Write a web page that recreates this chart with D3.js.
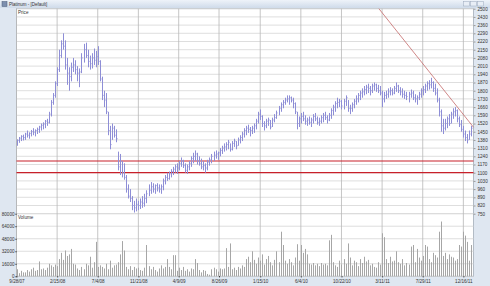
<!DOCTYPE html>
<html>
<head>
<meta charset="utf-8">
<script src="https://d3js.org/d3.v7.min.js"></script>
<style>
  body { margin: 0; background: #dfe7f1; }
  svg { display: block; font-family: "Liberation Sans", Arial, sans-serif; }
</style>
</head>
<body>
<div id="chart"></div>
<script>
// weekly bars, first bar on this date
const startDate = "2007-09-28";

const lows = [
  1330,1355,1370,1375,1380,1400,1390,1410,1420,1410,
  1430,1440,1460,1470,1480,1500,1520,1580,1680,1740,
  1840,1960,2080,2150,1980,1850,1800,1880,1960,1940,
  1880,1830,1950,2040,2080,2000,1980,1990,2020,2000,
  2020,1880,1720,1660,1600,1420,1300,1380,1400,1360,
  1120,1080,1060,1040,930,880,850,780,760,770,
  780,790,800,810,840,900,920,930,920,940,
  930,920,950,1000,1030,1040,1060,1080,1100,1090,
  1120,1150,1140,1100,1090,1120,1150,1180,1200,1170,
  1160,1130,1120,1100,1120,1160,1180,1200,1220,1210,
  1240,1260,1280,1290,1300,1280,1290,1320,1300,1330,
  1350,1370,1400,1420,1440,1410,1430,1440,1470,1520,
  1550,1490,1460,1480,1500,1470,1490,1530,1560,1590,
  1620,1650,1680,1700,1680,1700,1650,1600,1470,1490,
  1520,1540,1510,1500,1510,1490,1520,1540,1510,1500,
  1520,1530,1550,1520,1540,1560,1590,1620,1650,1660,
  1640,1640,1670,1620,1600,1620,1650,1680,1700,1720,
  1740,1760,1770,1780,1760,1780,1800,1790,1780,1760,
  1660,1700,1730,1740,1760,1760,1770,1790,1780,1760,
  1740,1730,1720,1700,1740,1720,1700,1680,1720,1740,
  1760,1780,1800,1810,1820,1790,1760,1700,1580,1450,
  1430,1460,1480,1500,1520,1560,1580,1530,1490,1450,
  1400,1370,1350,1380,1410
];

const highs = [
  1385,1405,1420,1425,1440,1460,1445,1465,1480,1470,
  1485,1500,1520,1530,1550,1560,1620,1720,1780,1880,
  2000,2150,2230,2290,2230,2080,2000,2040,2080,2060,
  2010,1990,2120,2200,2210,2150,2100,2120,2160,2140,
  2180,2060,1920,1800,1780,1620,1500,1520,1500,1470,
  1280,1260,1200,1180,1080,1000,960,900,860,880,
  860,880,900,920,950,1000,1020,1010,1000,1010,
  1000,1000,1050,1080,1100,1110,1130,1150,1170,1180,
  1200,1230,1210,1180,1170,1200,1240,1270,1290,1270,
  1240,1220,1200,1180,1210,1230,1260,1280,1290,1280,
  1310,1330,1350,1360,1380,1350,1370,1390,1370,1400,
  1420,1450,1480,1500,1510,1490,1500,1520,1560,1620,
  1640,1590,1540,1560,1570,1550,1570,1600,1630,1670,
  1700,1720,1740,1760,1760,1750,1740,1700,1620,1580,
  1610,1620,1590,1570,1580,1570,1600,1610,1580,1570,
  1590,1610,1620,1590,1610,1650,1680,1710,1740,1730,
  1720,1730,1760,1720,1680,1700,1730,1760,1780,1800,
  1820,1840,1850,1860,1840,1860,1870,1860,1850,1840,
  1800,1790,1800,1820,1830,1820,1840,1870,1850,1830,
  1820,1800,1790,1790,1810,1800,1770,1760,1790,1820,
  1840,1860,1880,1890,1910,1880,1860,1820,1740,1640,
  1560,1560,1580,1600,1620,1650,1660,1640,1580,1550,
  1500,1460,1430,1460,1500
];

const closes = [
  1375,1395,1410,1400,1430,1420,1435,1450,1445,1460,
  1470,1490,1505,1515,1540,1530,1600,1700,1760,1860,
  1980,2100,2200,2180,2020,1950,1920,2000,2020,1980,
  1950,1960,2080,2150,2100,2050,2030,2080,2060,2090,
  2050,1900,1760,1720,1620,1460,1340,1480,1420,1390,
  1150,1200,1100,1060,960,900,880,820,800,830,
  820,850,840,880,920,950,980,960,990,970,
  960,980,1030,1060,1050,1090,1110,1130,1150,1140,
  1180,1200,1160,1120,1150,1180,1220,1240,1260,1200,
  1180,1150,1160,1140,1190,1210,1240,1250,1260,1270,
  1290,1310,1320,1340,1360,1300,1350,1370,1330,1380,
  1400,1430,1460,1480,1470,1460,1480,1500,1540,1600,
  1580,1520,1500,1540,1550,1490,1550,1570,1610,1650,
  1680,1700,1720,1730,1740,1720,1690,1620,1520,1560,
  1580,1560,1540,1550,1530,1550,1580,1560,1530,1540,
  1570,1590,1570,1550,1590,1630,1660,1690,1700,1710,
  1670,1710,1740,1650,1650,1680,1710,1730,1760,1780,
  1790,1810,1830,1820,1800,1840,1850,1820,1800,1780,
  1730,1760,1770,1790,1800,1780,1820,1840,1800,1790,
  1770,1760,1750,1770,1780,1740,1730,1740,1770,1800,
  1810,1840,1860,1850,1870,1820,1780,1720,1620,1500,
  1480,1520,1560,1520,1600,1620,1630,1560,1510,1470,
  1430,1400,1380,1430,1480
];

const volumes = [
  9000,4000,7000,5000,5000,8000,6000,9000,11000,7000,
  8000,19000,9000,10000,8000,11000,16000,14000,12000,15000,
  13000,22000,30000,21000,33000,26000,28000,35000,16000,15000,
  10000,8000,12000,9000,16000,14000,25000,11000,18000,44000,
  12000,14000,12000,10000,16000,9000,20000,11000,14000,15000,
  18000,28000,45000,33000,12000,9000,13000,8000,12000,10000,
  11000,8000,7000,11000,40000,13000,9000,12000,8000,6000,
  10000,14000,10000,12000,22000,12000,9000,27000,27000,7000,
  11000,8000,12000,7000,9000,6000,10000,9000,22000,17000,
  8000,5000,8000,7000,3000,2000,9000,11000,9000,6000,
  10000,9000,10000,36000,12000,42000,9000,11000,8000,12000,
  10000,14000,12000,22000,25000,18000,32000,21000,16000,24000,
  20000,28000,15000,22000,26000,18000,14000,21000,32000,18000,
  57000,40000,20000,16000,22000,18000,14000,24000,41000,20000,
  40000,30000,35000,28000,16000,15000,17000,14000,16000,13000,
  17000,15000,16000,14000,46000,53000,18000,14000,12000,20000,
  15000,22000,16000,42000,24000,14000,20000,18000,13000,22000,
  17000,25000,19000,21000,14000,16000,12000,11000,18000,15000,
  55000,50000,22000,17000,25000,19000,20000,32000,18000,16000,
  22000,14000,17000,15000,38000,40000,18000,35000,24000,20000,
  26000,40000,38000,22000,18000,30000,27000,24000,57000,70000,
  26000,30000,22000,28000,25000,24000,20000,22000,40000,38000,
  57000,52000,44000,20000,40000
];

const priceTicks = d3.range(750, 2501, 70);
const volumeTicks = [0, 16000, 32000, 48000, 64000, 80000];
const dateTicks = ["2007-09-28","2008-02-15","2008-07-04","2008-11-21","2009-04-09",
  "2009-08-26","2010-01-15","2010-06-04","2010-10-22","2011-03-11","2011-07-29","2011-12-16"];
const supportLevels = [1200, 1100];
const trendLine = [["2011-02-28", 2500], ["2012-01-20", 1488]];

const parse = d3.timeParse("%Y-%m-%d");
const t0 = parse(startDate);
const data = lows.map((lo, i) => ({
  date: d3.timeWeek.offset(t0, i),
  low: lo, high: highs[i], close: closes[i], volume: volumes[i]
}));

const W = 490, H = 286;
const left = 16.5, right = 473.5;
const priceTop = 8.7, priceBottom = 213.7, volBottom = 276.3;

const svg = d3.select("#chart").append("svg")
  .attr("width", W).attr("height", H);

// window frame + title bar
svg.append("rect").attr("width", W).attr("height", H).attr("fill", "#dfe7f1");
const grad = svg.append("defs").append("linearGradient")
  .attr("id", "tb").attr("x1", 0).attr("y1", 0).attr("x2", 0).attr("y2", 1);
grad.append("stop").attr("offset", "0%").attr("stop-color", "#eef3f9");
grad.append("stop").attr("offset", "100%").attr("stop-color", "#cfdbea");
svg.append("rect").attr("width", W).attr("height", 8).attr("fill", "url(#tb)");
svg.append("rect").attr("x", 2).attr("y", 1.5).attr("width", 5).attr("height", 5)
  .attr("fill", "#7d8fae").attr("stroke", "#4d5d7a").attr("stroke-width", 0.5);
svg.append("text").attr("x", 9).attr("y", 6).attr("font-size", 4.5).attr("fill", "#333")
  .text("Platinum - [Default]");
[463, 470, 477].forEach(bx => {
  svg.append("rect").attr("x", bx + 0.5).attr("y", 1.5).attr("width", 6).attr("height", 4.5)
    .attr("fill", "#e8eef6").attr("stroke", "#9aa8bc").attr("stroke-width", 0.5);
});

const x = d3.scaleTime()
  .domain([t0, d3.timeWeek.offset(t0, 225)])
  .range([left, right]);
const y = d3.scaleLinear().domain([750, 2500]).range([priceBottom, priceTop]);
const yv = d3.scaleLinear().domain([0, 80000]).range([volBottom, priceBottom]);

// panels
svg.append("rect").attr("x", left).attr("y", priceTop)
  .attr("width", right - left).attr("height", volBottom - priceTop)
  .attr("fill", "#fff").attr("stroke", "#a4adb9").attr("stroke-width", 0.8);

// horizontal grid
svg.append("g").selectAll("line").data(priceTicks).join("line")
  .attr("x1", left).attr("x2", right)
  .attr("y1", d => y(d)).attr("y2", d => y(d))
  .attr("stroke", "#d6d6d6").attr("stroke-width", 0.8);
svg.append("g").selectAll("line").data(volumeTicks).join("line")
  .attr("x1", left).attr("x2", right)
  .attr("y1", d => yv(d)).attr("y2", d => yv(d))
  .attr("stroke", "#d6d6d6").attr("stroke-width", 0.8);

// vertical grid
svg.append("g").selectAll("line").data(dateTicks).join("line")
  .attr("x1", d => x(parse(d))).attr("x2", d => x(parse(d)))
  .attr("y1", priceTop).attr("y2", volBottom)
  .attr("stroke", "#b8b8b8").attr("stroke-width", 0.8);

// price axis (right)
const ya = svg.append("g").attr("transform", `translate(${right},0)`)
  .call(d3.axisRight(y).tickValues(priceTicks).tickSize(2).tickFormat(d3.format("d")));
ya.select(".domain").remove();
ya.selectAll("text").attr("font-size", 4.6).attr("fill", "#333").attr("x", 4)
  .attr("font-family", "Liberation Sans, Arial, sans-serif");
ya.selectAll("line").attr("stroke", "#999");

// volume axis (left)
const va = svg.append("g").attr("transform", `translate(${left},0)`)
  .call(d3.axisLeft(yv).tickValues(volumeTicks).tickSize(1).tickFormat(d3.format("d")));
va.select(".domain").remove();
va.selectAll("text").attr("font-size", 4.6).attr("fill", "#333").attr("x", -2)
  .attr("font-family", "Liberation Sans, Arial, sans-serif");

// date axis
const xa = svg.append("g").attr("transform", `translate(0,${volBottom})`)
  .call(d3.axisBottom(x).tickValues(dateTicks.map(parse)).tickSize(1)
    .tickFormat(d3.timeFormat("%-m/%-d/%y")));
xa.select(".domain").remove();
xa.selectAll("text").attr("font-size", 4.6).attr("fill", "#333").attr("y", 3)
  .attr("font-family", "Liberation Sans, Arial, sans-serif");

// panel titles
svg.append("text").attr("x", 18).attr("y", 14).attr("font-size", 4.6).attr("fill", "#333").text("Price");
svg.append("text").attr("x", 18).attr("y", 219).attr("font-size", 4.6).attr("fill", "#333").text("Volume");

// volume bars
svg.append("g").selectAll("rect").data(data).join("rect")
  .attr("x", d => Math.round(x(d.date)))
  .attr("width", 1)
  .attr("y", d => yv(d.volume))
  .attr("height", d => volBottom - yv(d.volume))
  .attr("fill", "#a6a6a6");

// support lines
svg.append("g").selectAll("line").data(supportLevels).join("line")
  .attr("x1", left).attr("x2", right)
  .attr("y1", d => y(d)).attr("y2", d => y(d))
  .attr("stroke", "#c8202a").attr("stroke-width", 1.2);

// trend line
svg.append("line")
  .attr("x1", x(parse(trendLine[0][0]))).attr("y1", y(trendLine[0][1]))
  .attr("x2", x(parse(trendLine[1][0]))).attr("y2", y(trendLine[1][1]))
  .attr("stroke", "#c46a6a").attr("stroke-width", 0.8);

// OHLC bars
const bars = svg.append("g").attr("stroke", "#8e8ed6").attr("stroke-width", 1);
bars.selectAll("line.hl").data(data).join("line").attr("class", "hl")
  .attr("x1", d => Math.round(x(d.date)) + 0.5).attr("x2", d => Math.round(x(d.date)) + 0.5)
  .attr("y1", d => y(d.high)).attr("y2", d => y(d.low));
bars.selectAll("line.c").data(data).join("line").attr("class", "c")
  .attr("x1", d => Math.round(x(d.date)) + 1).attr("x2", d => Math.round(x(d.date)) + 2)
  .attr("y1", d => y(d.close)).attr("y2", d => y(d.close))
  .attr("stroke-opacity", 0.5);
</script>
</body>
</html>
